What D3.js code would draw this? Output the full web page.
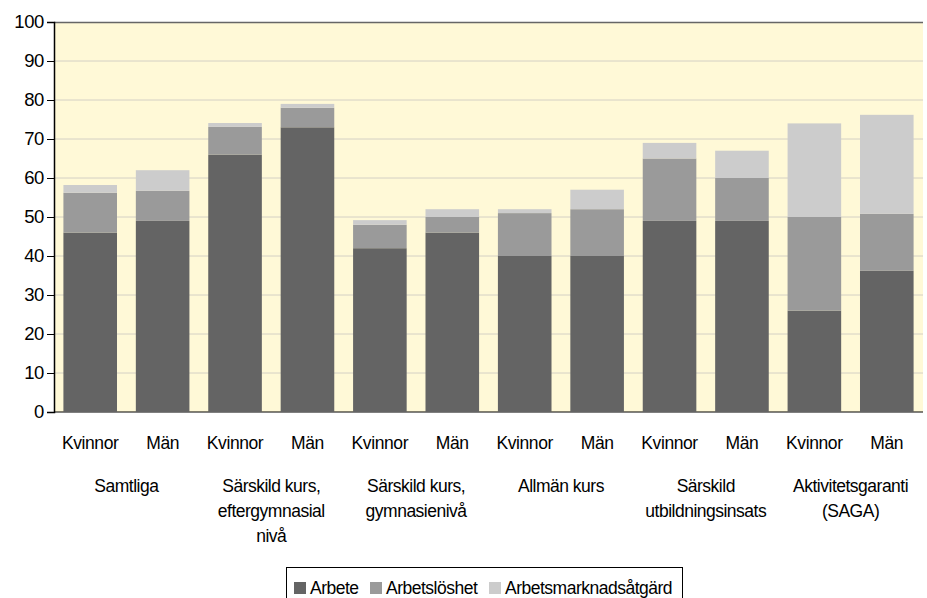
<!DOCTYPE html>
<html lang="sv">
<head>
<meta charset="UTF-8">
<script src="https://cdn.jsdelivr.net/npm/d3@7"></script>
<style>
    body { margin: 0; background: #fff; }
    text { font-family: "Liberation Sans", Arial, sans-serif; fill: #000; }
</style>
</head>
<body>
<script>
    // ---- data ----
    const bars = ["Kvinnor", "Män", "Kvinnor", "Män", "Kvinnor", "Män",
                  "Kvinnor", "Män", "Kvinnor", "Män", "Kvinnor", "Män"];
    const groups = [
        ["Samtliga"],
        ["Särskild kurs,", "eftergymnasial", "nivå"],
        ["Särskild kurs,", "gymnasienivå"],
        ["Allmän kurs"],
        ["Särskild", "utbildningsinsats"],
        ["Aktivitetsgaranti", "(SAGA)"]
    ];
    const seriesNames = ["Arbete", "Arbetslöshet", "Arbetsmarknadsåtgärd"];
    const arbete       = [46, 49, 66, 73, 42, 46, 40, 40, 49, 49, 26, 36.2];
    const arbetsloshet = [10.2, 7.7, 7.1, 5, 6, 4, 11, 12, 16, 11, 24, 14.6];
    const atgard       = [2, 5.3, 1, 1, 1.2, 2, 1, 5, 4, 7, 24, 25.4];
    const yTicks = [0, 10, 20, 30, 40, 50, 60, 70, 80, 90, 100];
    const colors = ["#646464", "#9a9a9a", "#cccccc"];

    // ---- layout ----
    const W = 927, H = 598;
    const m = { left: 54, right: 4, top: 22, bottom: 186 };
    const innerW = W - m.left - m.right, innerH = H - m.top - m.bottom;

    const svg = d3.select("body").append("svg")
        .attr("width", W).attr("height", H);

    const rows = bars.map((b, i) => ({ i: i, Arbete: arbete[i], "Arbetslöshet": arbetsloshet[i], "Arbetsmarknadsåtgärd": atgard[i] }));
    const stack = d3.stack().keys(seriesNames)(rows);

    const x = d3.scaleBand().domain(d3.range(bars.length)).range([0, innerW]).paddingInner(0.26).paddingOuter(0.13);
    const y = d3.scaleLinear().domain([0, 100]).range([innerH, 0]);

    const g = svg.append("g").attr("transform", `translate(${m.left},${m.top})`);

    // background
    g.append("rect").attr("width", innerW).attr("height", innerH).attr("fill", "#fff9d7");

    // gridlines
    g.selectAll(".grid").data(yTicks.slice(1, -1)).enter().append("line")
        .attr("x1", 0).attr("x2", innerW)
        .attr("y1", d => y(d)).attr("y2", d => y(d))
        .attr("stroke", "#d4d0c4").attr("stroke-width", 1);

    // top border
    g.append("line").attr("x1", 0).attr("x2", innerW).attr("y1", 0.5).attr("y2", 0.5)
        .attr("stroke", "#666").attr("stroke-width", 1.5);

    // bottom axis line
    g.append("line").attr("x1", 0).attr("x2", innerW).attr("y1", innerH).attr("y2", innerH)
        .attr("stroke", "#000").attr("stroke-width", 1);

    // bars
    g.selectAll(".layer").data(stack).enter().append("g")
        .attr("fill", (d, k) => colors[k])
        .selectAll("rect").data(d => d).enter().append("rect")
        .attr("x", d => x(d.data.i))
        .attr("width", x.bandwidth())
        .attr("y", d => y(d[1]))
        .attr("height", d => y(d[0]) - y(d[1]));

    // y axis
    const yAxis = g.append("g").call(d3.axisLeft(y).tickValues(yTicks).tickSize(7).tickPadding(3));
    yAxis.select(".domain").attr("stroke", "#000").attr("stroke-width", 1.5);
    yAxis.selectAll(".tick line").attr("stroke", "#000");
    yAxis.selectAll("text").style("font-size", "18.5px").style("letter-spacing", "-0.4px")
        .attr("font-family", null).attr("fill", "#000");

    // x labels
    g.selectAll(".xl").data(bars).enter().append("text")
        .attr("x", (d, i) => x(i) + x.bandwidth() / 2)
        .attr("y", innerH + 37)
        .attr("text-anchor", "middle")
        .style("font-size", "17.5px").style("letter-spacing", "-0.4px")
        .text(d => d);

    const groupText = g.selectAll(".gl").data(groups).enter().append("text")
        .attr("text-anchor", "middle")
        .style("font-size", "17.5px").style("letter-spacing", "-0.5px")
        .attr("transform", (d, j) => `translate(${(x(2 * j) + x(2 * j + 1) + x.bandwidth()) / 2},${innerH + 80})`);
    groupText.selectAll("tspan").data(d => d).enter().append("tspan")
        .attr("x", 0).attr("dy", (d, k) => k === 0 ? 0 : 25)
        .text(d => d);

    // legend
    const leg = svg.append("g").attr("transform", "translate(286,567)");
    leg.append("rect").attr("x", 0.5).attr("y", 0.5).attr("width", 396).attr("height", 40)
        .attr("fill", "#fff").attr("stroke", "#000").attr("stroke-width", 1);
    const legX = [8, 84, 203];
    const items = leg.selectAll(".li").data(seriesNames).enter().append("g")
        .attr("transform", (d, i) => `translate(${legX[i]},0)`);
    items.append("rect").attr("y", 15).attr("width", 12).attr("height", 12)
        .attr("fill", (d, i) => colors[i]);
    items.append("text").attr("x", 16).attr("y", 27)
        .style("font-size", "17.5px").style("letter-spacing", "-0.5px")
        .text(d => d);
</script>
</body>
</html>
